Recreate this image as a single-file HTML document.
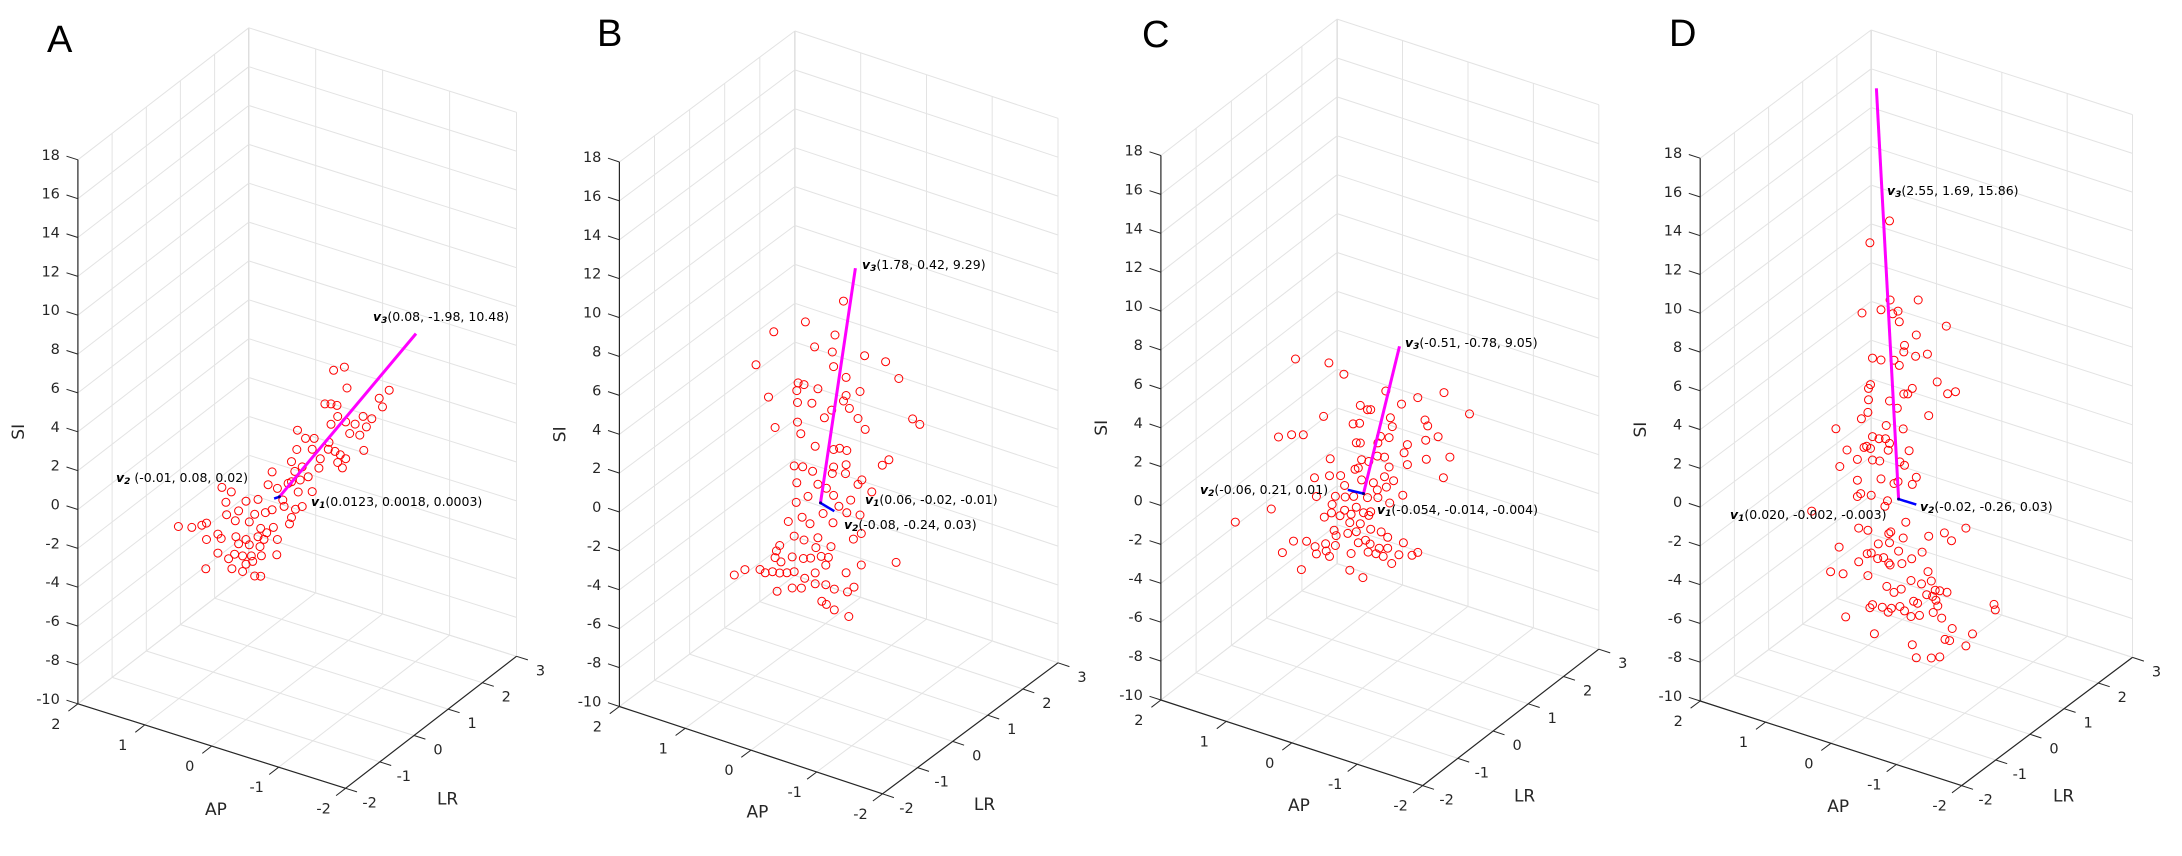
<!DOCTYPE html>
<html>
<head>
<meta charset="utf-8">
<style>
html,body{margin:0;padding:0;background:#fff;}
svg{display:block;font-family:"DejaVu Sans","Liberation Sans",sans-serif;}
</style>
</head>
<body>
<svg id="fig" width="2182" height="856" viewBox="0 0 2182 856" xmlns="http://www.w3.org/2000/svg">
<rect x="0" y="0" width="2182" height="856" fill="#fff"/>
</svg>
<script>
// ---------- data (AP, SI) pairs, LR taken as 0 ----------
const siTicks = [-10,-8,-6,-4,-2,0,2,4,6,8,10,12,14,16,18];
const apTicks = [2,1,0,-1,-2];
const lrTicks = [-2,-1,0,1,2,3];
const panelLetters = ["A","B","C","D"];

const ptsA = [[-0.80,7.49],[-0.96,7.83],[-1.00,6.80],[-1.63,7.37],[-1.48,6.79],[-1.53,6.40],[-0.67,5.62],[-0.76,5.72],[-0.85,5.74],[-0.86,5.18],[-0.76,4.67],[-0.98,5.03],[-1.12,5.07],[-1.24,5.60],[-1.37,5.62],[-1.29,5.11],[-1.04,4.50],[-1.19,4.58],[-0.26,3.82],[-0.38,3.53],[-0.51,3.67],[-0.25,2.82],[-0.48,3.08],[-0.73,3.71],[-0.72,3.34],[-0.82,3.34],[-0.90,3.25],[-0.98,3.14],[-1.25,3.86],[-0.86,2.81],[-0.93,2.61],[-0.60,2.72],[-0.17,2.11],[0.12,1.26],[-0.33,2.01],[-0.22,1.66],[-0.42,1.60],[-0.58,2.22],[-0.17,1.07],[-0.30,1.30],[0.18,0.54],[0.04,0.50],[-0.12,0.93],[-0.27,0.65],[-0.48,0.90],[-0.33,-0.03],[-0.23,-0.28],[-0.17,-0.77],[-0.14,-1.13],[0.87,-0.35],[0.73,-0.43],[0.51,-0.67],[0.33,-0.38],[0.81,-1.05],[0.62,-1.29],[0.38,-1.20],[0.22,-0.94],[0.12,-0.69],[-0.04,-0.01],[-0.06,-0.32],[0.80,-1.68],[0.67,-1.85],[0.46,-1.68],[1.52,-3.07],[1.32,-2.90],[1.17,-2.62],[1.10,-2.44],[0.93,-2.82],[0.88,-2.99],[1.10,-3.28],[0.29,-1.83],[0.20,-1.96],[0.10,-1.57],[0.66,-2.66],[0.51,-2.64],[0.33,-2.30],[0.24,-2.34],[0.04,-2.13],[0.62,-2.98],[0.46,-2.86],[0.30,-2.78],[0.93,-3.80],[0.77,-3.91],[0.68,-3.58],[0.56,-3.54],[0.43,-3.40],[0.28,-3.23],[0.05,-2.93],[0.72,-4.37],[0.56,-4.34],[1.11,-4.80],[0.38,-4.38],[0.29,-4.29],[0.51,-3.91],[0.41,-3.66]];

const ptsB = [[-0.34,10.78],[0.24,9.06],[0.72,8.01],[-0.21,8.89],[0.10,7.93],[-0.17,7.97],[0.99,6.01],[-0.66,8.33],[-0.98,8.38],[-1.18,7.74],[-0.19,7.24],[-0.38,6.90],[0.35,5.80],[0.26,5.81],[0.37,5.38],[0.05,5.83],[-0.59,6.41],[0.80,4.56],[-0.38,5.97],[-0.34,5.64],[-0.43,5.36],[0.36,4.78],[0.14,4.99],[-0.16,4.97],[-0.05,4.45],[-0.56,4.99],[-1.39,5.90],[-1.50,5.74],[0.36,3.77],[0.70,3.11],[-0.67,4.55],[0.31,3.23],[0.09,2.83],[-0.19,2.98],[-0.28,3.14],[-0.39,3.15],[0.41,1.46],[0.28,1.56],[0.13,1.50],[-0.19,2.08],[-0.17,1.72],[-0.38,2.41],[-0.37,1.94],[-0.93,3.00],[-1.03,3.39],[0.37,0.64],[0.05,0.92],[-0.08,0.86],[-0.56,1.60],[-0.62,1.90],[-0.77,1.45],[0.20,0.13],[0.38,-0.38],[-0.19,0.62],[-0.45,0.67],[-0.27,0.15],[-0.39,-0.05],[-0.59,0.06],[0.29,-1.04],[0.17,-1.24],[-0.18,-0.80],[0.50,-1.50],[-0.03,-0.49],[0.41,-2.15],[0.26,-2.18],[0.05,-1.83],[-0.49,-1.29],[-0.61,-0.87],[0.08,-2.37],[-0.15,-2.06],[0.63,-2.88],[0.68,-3.21],[0.70,-3.58],[0.61,-3.70],[0.44,-3.25],[0.27,-3.14],[0.16,-3.00],[0.00,-2.73],[-0.11,-2.66],[-0.07,-3.10],[1.32,-5.17],[1.16,-4.71],[0.93,-4.45],[0.85,-4.53],[0.74,-4.35],[0.63,-4.29],[0.52,-4.16],[0.41,-3.98],[0.25,-4.14],[0.09,-3.68],[-0.38,-3.15],[-0.61,-2.49],[-1.14,-1.76],[0.44,-4.85],[0.30,-4.70],[0.09,-4.24],[-0.07,-4.11],[-0.20,-4.19],[-0.40,-4.11],[-0.50,-3.75],[0.67,-5.28],[-0.01,-5.03],[-0.08,-5.11],[-0.20,-5.26],[-0.42,-5.35]];

const ptsC = [[1.02,5.81],[0.51,6.17],[0.28,5.84],[-0.36,5.68],[-0.85,5.88],[-1.25,6.58],[-0.60,5.27],[0.03,4.51],[-0.08,4.41],[-0.13,4.47],[-1.64,5.91],[0.59,3.33],[0.14,3.44],[0.04,3.58],[-0.43,4.38],[-0.46,3.96],[-0.96,4.85],[-1.00,4.59],[1.28,1.51],[1.08,1.85],[0.90,2.04],[-0.28,3.26],[-0.41,3.34],[-1.16,4.21],[-0.97,3.82],[0.09,2.52],[0.03,2.58],[-0.24,2.88],[-0.69,3.29],[-0.64,2.81],[-0.69,2.26],[-1.34,3.36],[-0.98,2.85],[0.49,1.26],[0.01,1.74],[-0.10,1.77],[-0.23,2.19],[-0.34,2.26],[-0.41,1.83],[0.11,1.14],[0.06,1.26],[0.33,0.57],[0.50,0.38],[0.73,0.02],[-0.17,0.75],[-0.34,1.25],[-0.48,1.20],[-1.24,2.19],[0.27,0.13],[0.01,0.70],[-0.23,0.45],[-0.37,0.75],[-0.62,0.61],[0.70,-0.91],[0.41,-0.58],[0.26,-0.45],[0.13,-0.28],[-0.08,-0.11],[-0.24,0.07],[-0.42,-0.01],[0.46,-1.06],[0.27,-1.14],[0.09,-0.79],[-0.13,-0.78],[1.39,-2.31],[1.94,-3.59],[0.58,-1.84],[0.47,-1.50],[0.34,-1.50],[0.17,-1.24],[-0.02,-0.95],[-0.10,-1.00],[0.19,-1.69],[0.03,-1.57],[0.43,-2.35],[0.40,-2.59],[0.22,-2.28],[0.09,-2.05],[-0.13,-1.68],[-0.29,-1.64],[-0.39,-1.81],[-0.05,-2.33],[1.05,-3.59],[0.85,-3.38],[0.72,-3.51],[0.56,-3.19],[0.41,-3.11],[0.06,-2.58],[-0.12,-2.45],[-0.26,-2.51],[-0.39,-2.37],[-0.63,-1.83],[1.22,-4.37],[0.70,-3.86],[0.55,-3.55],[0.50,-3.77],[0.17,-3.26],[-0.09,-2.90],[-0.21,-2.85],[-0.32,-2.87],[-0.56,-2.52],[-0.76,-2.33],[-0.85,-2.08],[-0.45,-3.09],[0.93,-4.92],[0.19,-4.14],[-0.01,-4.30]];

const ptsD = [[0.15,14.14],[0.45,12.68],[0.14,10.07],[-0.29,10.54],[0.57,8.93],[0.28,9.41],[0.10,9.40],[0.02,9.63],[0.00,9.10],[-0.72,9.66],[-0.26,8.70],[-0.08,7.97],[-0.07,7.62],[-0.25,7.59],[-0.43,7.90],[0.41,6.78],[0.28,6.82],[0.08,7.03],[0.00,6.85],[-0.58,6.63],[-0.74,6.19],[-0.86,6.43],[0.44,5.38],[0.47,5.15],[-0.20,5.88],[-0.07,5.45],[-0.13,5.52],[0.47,4.56],[0.15,4.85],[0.03,4.61],[0.48,3.90],[0.58,3.46],[-0.45,4.75],[0.97,2.52],[0.20,3.53],[-0.06,3.64],[0.41,2.73],[0.31,2.73],[0.54,2.03],[0.50,2.13],[0.44,2.08],[0.21,2.84],[0.80,1.61],[0.15,2.66],[0.17,2.29],[-0.15,2.61],[0.91,0.64],[0.64,1.30],[0.41,1.52],[0.30,1.59],[-0.01,1.88],[-0.08,1.78],[0.64,0.23],[0.28,0.69],[0.08,0.67],[0.02,0.83],[-0.20,0.93],[-0.26,1.36],[0.59,-0.41],[0.64,-0.61],[0.43,-0.32],[0.18,-0.33],[0.22,-0.66],[1.34,-2.13],[-0.10,-1.13],[0.62,-2.22],[0.48,-2.18],[0.16,-2.00],[0.13,-1.88],[-1.02,-0.43],[-0.69,-1.04],[-0.80,-1.32],[-0.45,-1.47],[-0.06,-1.99],[0.15,-2.46],[0.32,-2.71],[0.92,-3.53],[0.01,-2.74],[-0.35,-2.40],[0.43,-3.30],[0.49,-3.40],[0.24,-3.33],[0.33,-3.48],[0.16,-3.52],[0.14,-3.60],[-0.04,-3.33],[-0.19,-2.92],[0.62,-3.96],[1.05,-4.94],[0.86,-4.84],[0.48,-4.52],[-0.44,-3.31],[-0.18,-4.05],[-0.49,-3.74],[-0.34,-4.05],[0.19,-4.76],[-0.03,-4.66],[0.08,-4.95],[-0.55,-4.15],[-0.62,-4.10],[-0.73,-4.06],[-0.42,-4.52],[-0.51,-4.51],[-0.22,-5.08],[-0.28,-5.12],[-0.56,-4.65],[-0.59,-4.92],[0.41,-5.94],[0.45,-6.14],[0.26,-5.91],[0.12,-5.81],[-0.01,-5.58],[-0.08,-5.73],[0.17,-6.07],[-0.18,-5.91],[-0.31,-5.71],[-0.52,-5.33],[-0.65,-5.48],[0.82,-7.02],[-1.45,-3.90],[-1.47,-4.16],[0.38,-7.41],[-0.81,-5.84],[-1.12,-5.78],[-0.70,-6.52],[-0.77,-6.51],[-1.02,-6.51],[-0.20,-7.34],[-0.26,-7.95],[-0.49,-7.71],[-0.62,-7.51]];

// vector endpoints [AP, SI] (LR = 0): origin, v2 tip, v3 tip
const vecOriginA = [0.01,0.10], v2TipA = [0.09,-0.08], v3TipA = [-2.03,10.72];
const vecOriginB = [0.01,0.01], v2TipB = [-0.20,-0.18], v3TipB = [-0.52,12.67];
const vecOriginC = [-0.02,0.03], v2TipC = [0.22,-0.04], v3TipC = [-0.57,8.21];
const vecOriginD = [0.01,-0.06], v2TipD = [-0.26,-0.05], v3TipD = [0.35,20.76];

const labelsA = {v1:"(0.0123, 0.0018, 0.0003)", v2:" (-0.01, 0.08, 0.02)", v3:"(0.08, -1.98, 10.48)"};
const labelsB = {v1:"(0.06, -0.02, -0.01)", v2:"(-0.08, -0.24, 0.03)", v3:"(1.78, 0.42, 9.29)"};
const labelsC = {v1:"(-0.054, -0.014, -0.004)", v2:"(-0.06, 0.21, 0.01)", v3:"(-0.51, -0.78, 9.05)"};
const labelsD = {v1:"(0.020, -0.002, -0.003)", v2:"(-0.02, -0.26, 0.03)", v3:"(2.55, 1.69, 15.86)"};

// ---------- layout ----------
const layouts = [
  {O:[77.9,703.8], apEnd:[345.6,788.3], lrEnd:[516.5,656.3], top:159.8, letter:[47,52],
   lab:{v3:[373,317], v1:[311,502], v2:[116,478]}},
  {O:[619.4,706.5], apEnd:[882.5,793.8], lrEnd:[1058,662.8], top:162, letter:[597,46],
   lab:{v3:[862,265], v1:[865,500], v2:[844,525]}},
  {O:[1160.9,700], apEnd:[1422.6,785.6], lrEnd:[1598.8,649.2], top:155.5, letter:[1142,47],
   lab:{v3:[1405,343], v1:[1377,510], v2:[1200,490]}},
  {O:[1700.2,701], apEnd:[1961.6,785.6], lrEnd:[2132.5,657.4], top:158.2, letter:[1669,46],
   lab:{v3:[1887,191], v1:[1730,515], v2:[1920,507]}}
];
const allPts = [ptsA, ptsB, ptsC, ptsD];
const allOrig = [vecOriginA, vecOriginB, vecOriginC, vecOriginD];
const allV2 = [v2TipA, v2TipB, v2TipC, v2TipD];
const allV3 = [v3TipA, v3TipB, v3TipC, v3TipD];
const allLabels = [labelsA, labelsB, labelsC, labelsD];

const NS = "http://www.w3.org/2000/svg";
const svg = document.getElementById("fig");
function mk(tag, attrs, parent){
  const e = document.createElementNS(NS, tag);
  for (const k in attrs) e.setAttribute(k, attrs[k]);
  (parent||svg).appendChild(e);
  return e;
}
function projector(L){
  const a = [(L.apEnd[0]-L.O[0])/4, (L.apEnd[1]-L.O[1])/4];
  const l = [(L.lrEnd[0]-L.apEnd[0])/5, (L.lrEnd[1]-L.apEnd[1])/5];
  const s = (L.top-L.O[1])/28;
  const f = (ap, lr, si) => [L.O[0]+(2-ap)*a[0]+(lr+2)*l[0], L.O[1]+(2-ap)*a[1]+(lr+2)*l[1]+(si+10)*s];
  const an = Math.hypot(a[0],a[1]), ln = Math.hypot(l[0],l[1]);
  return {f, au:[a[0]/an,a[1]/an], lu:[l[0]/ln,l[1]/ln]};
}
function line(g, p, q, stroke, w){
  return mk("line",{x1:p[0].toFixed(1),y1:p[1].toFixed(1),x2:q[0].toFixed(1),y2:q[1].toFixed(1),stroke:stroke,"stroke-width":w},g);
}

layouts.forEach((L, i) => {
  const P = projector(L);
  const f = P.f;
  const g = mk("g",{});
  
  

  const grid = mk("g",{}, g);
  
  
  const gc = "#e3e3e3";
  lrTicks.forEach(lr => { if (lr>-2) line(grid, f(2,lr,-10), f(2,lr,18), lr===3?"#cfcfcf":gc, 1); });
  siTicks.forEach(si => { line(grid, f(2,-2,si), f(2,3,si), gc, 1); line(grid, f(2,3,si), f(-2,3,si), gc, 1); });
  apTicks.forEach(ap => { if (ap<2) line(grid, f(ap,3,-10), f(ap,3,18), gc, 1); line(grid, f(ap,-2,-10), f(ap,3,-10), gc, 1); });
  lrTicks.forEach(lr => { line(grid, f(2,lr,-10), f(-2,lr,-10), gc, 1); });

  const ax = mk("g",{}, g);
  
  
  line(ax, f(2,-2,-10), f(2,-2,18), "#262626", 1.2);
  line(ax, f(2,-2,-10), f(-2,-2,-10), "#262626", 1.2);
  line(ax, f(-2,-2,-10), f(-2,3,-10), "#262626", 1.2);
  const tl = 12;
  siTicks.forEach(si => {
    const p = f(2,-2,si);
    line(ax, p, [p[0]-P.au[0]*tl, p[1]-P.au[1]*tl], "#262626", 1);
    const t = mk("text",{x:(p[0]-18).toFixed(1), y:(p[1]-4).toFixed(1), "text-anchor":"end","dominant-baseline":"middle","font-size":14.5,fill:"#262626"}, ax);
    t.textContent = si;
    
    
  });
  apTicks.forEach(ap => {
    const p = f(ap,-2,-10);
    line(ax, p, [p[0]-P.lu[0]*tl, p[1]-P.lu[1]*tl], "#262626", 1);
    const t = mk("text",{x:(p[0]-22).toFixed(1), y:(p[1]+21).toFixed(1), "text-anchor":"middle","dominant-baseline":"middle","font-size":14.5,fill:"#262626"}, ax);
    t.textContent = ap;
    
    
  });
  lrTicks.forEach(lr => {
    const p = f(-2,lr,-10);
    line(ax, p, [p[0]+P.au[0]*tl, p[1]+P.au[1]*tl], "#262626", 1);
    const t = mk("text",{x:(p[0]+24).toFixed(1), y:(p[1]+15).toFixed(1), "text-anchor":"middle","dominant-baseline":"middle","font-size":14.5,fill:"#262626"}, ax);
    t.textContent = lr;
    
    
  });
  const apl = mk("text",{x:(L.O[0]+138).toFixed(1), y:(L.O[1]+106).toFixed(1), "text-anchor":"middle","dominant-baseline":"middle","font-size":17,fill:"#262626"}, ax);
  apl.textContent = "AP";
  
  
  const lrl = mk("text",{x:(L.apEnd[0]+102).toFixed(1), y:(L.apEnd[1]+11).toFixed(1), "text-anchor":"middle","dominant-baseline":"middle","font-size":17,fill:"#262626"}, ax);
  lrl.textContent = "LR";
  
  
  const sx = L.O[0]-59, sy = (L.O[1]+L.top)/2;
  const sil = mk("text",{x:sx.toFixed(1), y:sy.toFixed(1), transform:`rotate(-90 ${sx.toFixed(1)} ${sy.toFixed(1)})`, "text-anchor":"middle","dominant-baseline":"middle","font-size":17,fill:"#262626"}, ax);
  sil.textContent = "SI";
  
  

  const pg = mk("g",{}, g);
  
  
  allPts[i].forEach(d => {
    const p = f(d[0], 0, d[1]);
    const c = mk("ellipse",{cx:p[0].toFixed(1), cy:p[1].toFixed(1), rx:4, ry:4, fill:"none", stroke:"#ff0000","stroke-width":1}, pg);
    
    
  });

  const o = f(allOrig[i][0],0,allOrig[i][1]);
  const t3 = f(allV3[i][0],0,allV3[i][1]);
  const t2 = f(allV2[i][0],0,allV2[i][1]);
  const l3 = line(g, o, t3, "#ff00ff", 3);
  
  
  const l2 = line(g, o, t2, "#0000ff", 2.5);
  
  
  const l1 = mk("circle",{cx:o[0].toFixed(1), cy:o[1].toFixed(1), r:1.5, fill:"#000080"}, g);
  
  

  ["v1","v2","v3"].forEach(k => {
    const pos = L.lab[k];
    const t = mk("text",{x:pos[0], y:pos[1], "dominant-baseline":"middle","font-size":12.5,fill:"#000"}, g);
    
    
    const a1 = mk("tspan",{"font-weight":"bold","font-style":"italic"}, t); a1.textContent = "v";
    const a2 = mk("tspan",{"font-weight":"bold","font-style":"italic","font-size":9,dy:3}, t); a2.textContent = k.slice(1);
    const a3 = mk("tspan",{dy:-3}, t); a3.textContent = allLabels[i][k];
  });

  const pl = mk("text",{x:L.letter[0], y:L.letter[1], "font-size":38, fill:"#000", "font-family":"Liberation Sans, sans-serif"}, g);
  pl.textContent = panelLetters[i];
  
  
});
</script>
</body>
</html>
